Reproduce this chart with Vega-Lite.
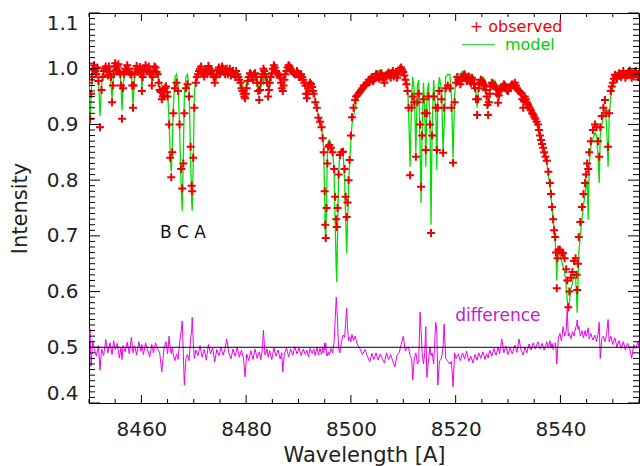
{
"$schema": "https://vega.github.io/schema/vega-lite/v6.json",
"width": 550, "height": 390,
"autosize": {"type": "none"},
"padding": {"left": 89, "top": 13, "right": 1, "bottom": 63},
"background": "white",
"config": {"view": {"stroke": null}, "font": "DejaVu Sans"},
"resolve": {"axis": {"x": "independent", "y": "independent"}},
"datasets": {
"xt": [{"t":8450},{"t":8455},{"t":8460},{"t":8465},{"t":8470},{"t":8475},{"t":8480},{"t":8485},{"t":8490},{"t":8495},{"t":8500},{"t":8505},{"t":8510},{"t":8515},{"t":8520},{"t":8525},{"t":8530},{"t":8535},{"t":8540},{"t":8545},{"t":8550},{"t":8555}],
"yt": [{"v":0.4},{"v":0.41},{"v":0.42},{"v":0.43},{"v":0.44},{"v":0.45},{"v":0.46},{"v":0.47},{"v":0.48},{"v":0.49},{"v":0.5},{"v":0.51},{"v":0.52},{"v":0.53},{"v":0.54},{"v":0.55},{"v":0.56},{"v":0.57},{"v":0.58},{"v":0.59},{"v":0.6},{"v":0.61},{"v":0.62},{"v":0.63},{"v":0.64},{"v":0.65},{"v":0.66},{"v":0.67},{"v":0.68},{"v":0.69},{"v":0.7},{"v":0.71},{"v":0.72},{"v":0.73},{"v":0.74},{"v":0.75},{"v":0.76},{"v":0.77},{"v":0.78},{"v":0.79},{"v":0.8},{"v":0.81},{"v":0.82},{"v":0.83},{"v":0.84},{"v":0.85},{"v":0.86},{"v":0.87},{"v":0.88},{"v":0.89},{"v":0.9},{"v":0.91},{"v":0.92},{"v":0.93},{"v":0.94},{"v":0.95},{"v":0.96},{"v":0.97},{"v":0.98},{"v":0.99},{"v":1.0},{"v":1.01},{"v":1.02},{"v":1.03},{"v":1.04},{"v":1.05},{"v":1.06},{"v":1.07},{"v":1.08},{"v":1.09},{"v":1.1}],
"spec": [
{"w":8450.0,"obs":0.975,"mod":0.97,"diff":0.51},
{"w":8450.2,"obs":0.91,"mod":0.90,"diff":0.533},
{"w":8450.4,"obs":0.955,"mod":0.955,"diff":0.466},
{"w":8450.7,"obs":0.998,"mod":0.99,"diff":0.512},
{"w":8451.0,"obs":1.006,"mod":0.996,"diff":0.498},
{"w":8451.4,"obs":0.99,"mod":0.996,"diff":0.484},
{"w":8451.8,"obs":0.978,"mod":0.985,"diff":0.503},
{"w":8452.1,"obs":0.895,"mod":0.915,"diff":0.459},
{"w":8452.4,"obs":0.962,"mod":0.97,"diff":0.497},
{"w":8452.8,"obs":0.996,"mod":0.998,"diff":0.485},
{"w":8453.2,"obs":1.004,"mod":0.998,"diff":0.514},
{"w":8453.6,"obs":0.988,"mod":0.996,"diff":0.49},
{"w":8454.0,"obs":0.995,"mod":0.992,"diff":0.508},
{"w":8454.4,"obs":0.94,"mod":0.946,"diff":0.487},
{"w":8454.7,"obs":0.99,"mod":0.992,"diff":0.512},
{"w":8455.0,"obs":1.01,"mod":1.0,"diff":0.496},
{"w":8455.4,"obs":1.004,"mod":1.0,"diff":0.507},
{"w":8455.8,"obs":0.994,"mod":0.998,"diff":0.481},
{"w":8456.1,"obs":0.97,"mod":0.975,"diff":0.499},
{"w":8456.3,"obs":0.91,"mod":0.925,"diff":0.478},
{"w":8456.5,"obs":0.965,"mod":0.97,"diff":0.503},
{"w":8456.9,"obs":1.0,"mod":0.998,"diff":0.492},
{"w":8457.3,"obs":1.006,"mod":1.0,"diff":0.509},
{"w":8457.7,"obs":0.994,"mod":0.998,"diff":0.488},
{"w":8458.1,"obs":0.99,"mod":0.99,"diff":0.518},
{"w":8458.4,"obs":0.93,"mod":0.935,"diff":0.49},
{"w":8458.7,"obs":0.99,"mod":0.99,"diff":0.503},
{"w":8459.1,"obs":1.005,"mod":1.0,"diff":0.486},
{"w":8459.5,"obs":0.998,"mod":1.0,"diff":0.51},
{"w":8459.9,"obs":0.99,"mod":0.995,"diff":0.493},
{"w":8460.1,"obs":0.96,"mod":0.965,"diff":0.505},
{"w":8460.4,"obs":0.995,"mod":0.998,"diff":0.487},
{"w":8460.8,"obs":1.006,"mod":1.0,"diff":0.508},
{"w":8461.2,"obs":1.0,"mod":1.0,"diff":0.495},
{"w":8461.6,"obs":0.994,"mod":0.998,"diff":0.483},
{"w":8462.0,"obs":0.97,"mod":0.975,"diff":0.505},
{"w":8462.3,"obs":0.996,"mod":0.998,"diff":0.49},
{"w":8462.7,"obs":1.002,"mod":0.998,"diff":0.508},
{"w":8463.1,"obs":0.99,"mod":0.995,"diff":0.497},
{"w":8463.5,"obs":0.962,"mod":0.975,"diff":0.49},
{"w":8463.9,"obs":0.945,"mod":0.97,"diff":0.456},
{"w":8464.3,"obs":0.952,"mod":0.96,"diff":0.497},
{"w":8464.7,"obs":0.968,"mod":0.975,"diff":0.51},
{"w":8465.0,"obs":0.95,"mod":0.96,"diff":0.488},
{"w":8465.3,"obs":0.9,"mod":0.905,"diff":0.52},
{"w":8465.5,"obs":0.84,"mod":0.845,"diff":0.497},
{"w":8465.7,"obs":0.805,"mod":0.815,"diff":0.489},
{"w":8465.9,"obs":0.85,"mod":0.86,"diff":0.5},
{"w":8466.1,"obs":0.92,"mod":0.93,"diff":0.486},
{"w":8466.4,"obs":0.965,"mod":0.985,"diff":0.476},
{"w":8466.7,"obs":0.975,"mod":0.99,"diff":0.488},
{"w":8467.0,"obs":0.96,"mod":0.975,"diff":0.478},
{"w":8467.3,"obs":0.9,"mod":0.89,"diff":0.508},
{"w":8467.6,"obs":0.82,"mod":0.79,"diff":0.53},
{"w":8467.8,"obs":0.785,"mod":0.745,"diff":0.547},
{"w":8468.0,"obs":0.83,"mod":0.84,"diff":0.49},
{"w":8468.2,"obs":0.92,"mod":0.95,"diff":0.432},
{"w":8468.5,"obs":0.965,"mod":0.985,"diff":0.48},
{"w":8468.8,"obs":0.972,"mod":0.99,"diff":0.487},
{"w":8469.1,"obs":0.95,"mod":0.965,"diff":0.476},
{"w":8469.4,"obs":0.86,"mod":0.84,"diff":0.515},
{"w":8469.6,"obs":0.79,"mod":0.76,"diff":0.53},
{"w":8469.7,"obs":0.78,"mod":0.745,"diff":0.554},
{"w":8469.9,"obs":0.84,"mod":0.83,"diff":0.51},
{"w":8470.1,"obs":0.93,"mod":0.95,"diff":0.48},
{"w":8470.4,"obs":0.975,"mod":0.985,"diff":0.495},
{"w":8470.8,"obs":0.99,"mod":0.995,"diff":0.485},
{"w":8471.2,"obs":1.0,"mod":0.998,"diff":0.503},
{"w":8471.6,"obs":0.994,"mod":0.998,"diff":0.482},
{"w":8472.0,"obs":0.986,"mod":0.99,"diff":0.496},
{"w":8472.4,"obs":0.996,"mod":0.995,"diff":0.477},
{"w":8472.8,"obs":1.005,"mod":1.0,"diff":0.505},
{"w":8473.2,"obs":0.993,"mod":0.998,"diff":0.488},
{"w":8473.6,"obs":0.99,"mod":0.995,"diff":0.499},
{"w":8474.0,"obs":0.975,"mod":0.985,"diff":0.474},
{"w":8474.4,"obs":0.99,"mod":0.995,"diff":0.496},
{"w":8474.8,"obs":1.002,"mod":0.998,"diff":0.485},
{"w":8475.2,"obs":0.995,"mod":0.998,"diff":0.5},
{"w":8475.6,"obs":1.0,"mod":1.0,"diff":0.486},
{"w":8476.0,"obs":0.99,"mod":0.995,"diff":0.498},
{"w":8476.3,"obs":1.0,"mod":0.99,"diff":0.515},
{"w":8476.7,"obs":0.995,"mod":0.998,"diff":0.49},
{"w":8477.1,"obs":0.988,"mod":0.995,"diff":0.479},
{"w":8477.5,"obs":0.996,"mod":0.998,"diff":0.497},
{"w":8477.9,"obs":0.985,"mod":0.99,"diff":0.484},
{"w":8478.3,"obs":0.99,"mod":0.995,"diff":0.5},
{"w":8478.7,"obs":0.98,"mod":0.99,"diff":0.482},
{"w":8479.1,"obs":0.965,"mod":0.975,"diff":0.495},
{"w":8479.5,"obs":0.955,"mod":0.965,"diff":0.48},
{"w":8479.8,"obs":0.947,"mod":0.955,"diff":0.447},
{"w":8480.1,"obs":0.965,"mod":0.975,"diff":0.488},
{"w":8480.5,"obs":0.985,"mod":0.99,"diff":0.476},
{"w":8480.9,"obs":0.99,"mod":0.995,"diff":0.494},
{"w":8481.3,"obs":0.98,"mod":0.99,"diff":0.478},
{"w":8481.7,"obs":0.992,"mod":0.995,"diff":0.497},
{"w":8482.1,"obs":0.975,"mod":0.985,"diff":0.48},
{"w":8482.5,"obs":0.944,"mod":0.955,"diff":0.492},
{"w":8482.8,"obs":0.975,"mod":0.98,"diff":0.478},
{"w":8483.1,"obs":0.99,"mod":0.995,"diff":0.497},
{"w":8483.3,"obs":1.0,"mod":0.97,"diff":0.531},
{"w":8483.6,"obs":0.99,"mod":0.995,"diff":0.486},
{"w":8484.0,"obs":0.975,"mod":0.985,"diff":0.497},
{"w":8484.2,"obs":0.95,"mod":0.96,"diff":0.482},
{"w":8484.5,"obs":0.975,"mod":0.985,"diff":0.494},
{"w":8484.9,"obs":0.992,"mod":0.995,"diff":0.478},
{"w":8485.3,"obs":1.006,"mod":0.998,"diff":0.499},
{"w":8485.7,"obs":0.996,"mod":0.998,"diff":0.484},
{"w":8486.1,"obs":0.99,"mod":0.995,"diff":0.495},
{"w":8486.5,"obs":0.984,"mod":0.99,"diff":0.479},
{"w":8486.8,"obs":0.965,"mod":0.975,"diff":0.49},
{"w":8487.0,"obs":0.96,"mod":0.97,"diff":0.456},
{"w":8487.3,"obs":0.98,"mod":0.99,"diff":0.488},
{"w":8487.7,"obs":0.996,"mod":0.998,"diff":0.499},
{"w":8488.1,"obs":1.006,"mod":1.0,"diff":0.483},
{"w":8488.5,"obs":1.0,"mod":1.0,"diff":0.497},
{"w":8488.9,"obs":0.994,"mod":0.998,"diff":0.486},
{"w":8489.3,"obs":0.99,"mod":0.995,"diff":0.501},
{"w":8489.7,"obs":0.996,"mod":0.995,"diff":0.488},
{"w":8490.1,"obs":0.985,"mod":0.99,"diff":0.499},
{"w":8490.5,"obs":0.99,"mod":0.99,"diff":0.485},
{"w":8490.9,"obs":0.98,"mod":0.985,"diff":0.497},
{"w":8491.3,"obs":0.97,"mod":0.975,"diff":0.487},
{"w":8491.6,"obs":0.947,"mod":0.955,"diff":0.495},
{"w":8491.9,"obs":0.965,"mod":0.97,"diff":0.483},
{"w":8492.2,"obs":0.975,"mod":0.98,"diff":0.498},
{"w":8492.6,"obs":0.967,"mod":0.97,"diff":0.489},
{"w":8492.9,"obs":0.955,"mod":0.96,"diff":0.497},
{"w":8493.2,"obs":0.94,"mod":0.945,"diff":0.485},
{"w":8493.5,"obs":0.93,"mod":0.93,"diff":0.5},
{"w":8493.8,"obs":0.912,"mod":0.915,"diff":0.486},
{"w":8494.1,"obs":0.905,"mod":0.905,"diff":0.498},
{"w":8494.4,"obs":0.895,"mod":0.895,"diff":0.487},
{"w":8494.6,"obs":0.875,"mod":0.88,"diff":0.5},
{"w":8494.8,"obs":0.85,"mod":0.855,"diff":0.49},
{"w":8495.0,"obs":0.78,"mod":0.77,"diff":0.508},
{"w":8495.1,"obs":0.72,"mod":0.71,"diff":0.496},
{"w":8495.2,"obs":0.696,"mod":0.689,"diff":0.507},
{"w":8495.35,"obs":0.75,"mod":0.76,"diff":0.486},
{"w":8495.5,"obs":0.83,"mod":0.845,"diff":0.484},
{"w":8495.7,"obs":0.86,"mod":0.87,"diff":0.492},
{"w":8495.9,"obs":0.863,"mod":0.872,"diff":0.486},
{"w":8496.2,"obs":0.858,"mod":0.865,"diff":0.498},
{"w":8496.5,"obs":0.85,"mod":0.855,"diff":0.49},
{"w":8496.8,"obs":0.82,"mod":0.81,"diff":0.51},
{"w":8497.0,"obs":0.77,"mod":0.72,"diff":0.55},
{"w":8497.2,"obs":0.73,"mod":0.64,"diff":0.59},
{"w":8497.3,"obs":0.716,"mod":0.617,"diff":0.575},
{"w":8497.45,"obs":0.75,"mod":0.7,"diff":0.545},
{"w":8497.65,"obs":0.81,"mod":0.81,"diff":0.497},
{"w":8497.9,"obs":0.845,"mod":0.85,"diff":0.49},
{"w":8498.2,"obs":0.85,"mod":0.855,"diff":0.51},
{"w":8498.5,"obs":0.851,"mod":0.85,"diff":0.522},
{"w":8498.8,"obs":0.82,"mod":0.8,"diff":0.518},
{"w":8499.0,"obs":0.77,"mod":0.73,"diff":0.545},
{"w":8499.2,"obs":0.734,"mod":0.669,"diff":0.57},
{"w":8499.35,"obs":0.76,"mod":0.72,"diff":0.535},
{"w":8499.55,"obs":0.8,"mod":0.79,"diff":0.512},
{"w":8499.75,"obs":0.836,"mod":0.83,"diff":0.518},
{"w":8500.0,"obs":0.88,"mod":0.87,"diff":0.51},
{"w":8500.2,"obs":0.913,"mod":0.9,"diff":0.523},
{"w":8500.5,"obs":0.93,"mod":0.915,"diff":0.512},
{"w":8500.8,"obs":0.944,"mod":0.93,"diff":0.52},
{"w":8501.2,"obs":0.952,"mod":0.945,"diff":0.506},
{"w":8501.7,"obs":0.958,"mod":0.955,"diff":0.498},
{"w":8502.2,"obs":0.965,"mod":0.965,"diff":0.487},
{"w":8502.7,"obs":0.97,"mod":0.975,"diff":0.496},
{"w":8503.2,"obs":0.975,"mod":0.98,"diff":0.483},
{"w":8503.6,"obs":0.976,"mod":0.985,"diff":0.474},
{"w":8504.0,"obs":0.985,"mod":0.99,"diff":0.489},
{"w":8504.4,"obs":0.98,"mod":0.99,"diff":0.478},
{"w":8504.8,"obs":0.99,"mod":0.995,"diff":0.49},
{"w":8505.2,"obs":0.985,"mod":0.995,"diff":0.477},
{"w":8505.6,"obs":0.99,"mod":0.998,"diff":0.488},
{"w":8506.0,"obs":0.985,"mod":0.995,"diff":0.479},
{"w":8506.4,"obs":0.975,"mod":0.99,"diff":0.472},
{"w":8506.8,"obs":0.988,"mod":0.995,"diff":0.49},
{"w":8507.2,"obs":0.993,"mod":0.998,"diff":0.478},
{"w":8507.6,"obs":0.984,"mod":0.998,"diff":0.487},
{"w":8508.0,"obs":0.996,"mod":0.998,"diff":0.475},
{"w":8508.4,"obs":0.99,"mod":0.998,"diff":0.465},
{"w":8508.8,"obs":0.984,"mod":0.998,"diff":0.486},
{"w":8509.2,"obs":0.995,"mod":0.998,"diff":0.49},
{"w":8509.6,"obs":1.002,"mod":0.998,"diff":0.505},
{"w":8510.0,"obs":0.994,"mod":0.995,"diff":0.52},
{"w":8510.4,"obs":0.98,"mod":0.985,"diff":0.493},
{"w":8510.8,"obs":0.96,"mod":0.97,"diff":0.5},
{"w":8511.0,"obs":0.93,"mod":0.93,"diff":0.5},
{"w":8511.3,"obs":0.809,"mod":0.824,"diff":0.485},
{"w":8511.6,"obs":0.93,"mod":0.95,"diff":0.48},
{"w":8511.8,"obs":0.95,"mod":0.985,"diff":0.441},
{"w":8512.1,"obs":0.94,"mod":0.96,"diff":0.48},
{"w":8512.4,"obs":0.842,"mod":0.85,"diff":0.49},
{"w":8512.7,"obs":0.94,"mod":0.97,"diff":0.47},
{"w":8512.95,"obs":0.955,"mod":0.98,"diff":0.475},
{"w":8513.2,"obs":0.9,"mod":0.86,"diff":0.563},
{"w":8513.4,"obs":0.788,"mod":0.759,"diff":0.53},
{"w":8513.6,"obs":0.88,"mod":0.89,"diff":0.49},
{"w":8513.85,"obs":0.945,"mod":0.975,"diff":0.47},
{"w":8514.1,"obs":0.92,"mod":0.93,"diff":0.49},
{"w":8514.3,"obs":0.854,"mod":0.824,"diff":0.537},
{"w":8514.5,"obs":0.92,"mod":0.95,"diff":0.446},
{"w":8514.8,"obs":0.95,"mod":0.975,"diff":0.475},
{"w":8515.1,"obs":0.9,"mod":0.9,"diff":0.5},
{"w":8515.3,"obs":0.705,"mod":0.72,"diff":0.485},
{"w":8515.5,"obs":0.88,"mod":0.89,"diff":0.49},
{"w":8515.8,"obs":0.95,"mod":0.98,"diff":0.47},
{"w":8516.2,"obs":0.93,"mod":0.92,"diff":0.545},
{"w":8516.4,"obs":0.854,"mod":0.818,"diff":0.53},
{"w":8516.6,"obs":0.93,"mod":0.96,"diff":0.432},
{"w":8516.9,"obs":0.96,"mod":0.985,"diff":0.475},
{"w":8517.3,"obs":0.945,"mod":0.96,"diff":0.48},
{"w":8517.6,"obs":0.849,"mod":0.85,"diff":0.5},
{"w":8517.8,"obs":0.93,"mod":0.9,"diff":0.542},
{"w":8518.1,"obs":0.965,"mod":0.985,"diff":0.48},
{"w":8518.5,"obs":0.97,"mod":0.99,"diff":0.475},
{"w":8518.9,"obs":0.965,"mod":0.99,"diff":0.47},
{"w":8519.2,"obs":0.93,"mod":0.95,"diff":0.475},
{"w":8519.5,"obs":0.831,"mod":0.84,"diff":0.429},
{"w":8519.8,"obs":0.94,"mod":0.95,"diff":0.49},
{"w":8520.1,"obs":0.975,"mod":0.99,"diff":0.48},
{"w":8520.5,"obs":0.98,"mod":0.99,"diff":0.488},
{"w":8520.9,"obs":0.972,"mod":0.99,"diff":0.476},
{"w":8521.3,"obs":0.985,"mod":0.995,"diff":0.49},
{"w":8521.7,"obs":0.99,"mod":0.995,"diff":0.479},
{"w":8522.1,"obs":0.978,"mod":0.99,"diff":0.493},
{"w":8522.5,"obs":0.986,"mod":0.99,"diff":0.475},
{"w":8522.9,"obs":0.974,"mod":0.99,"diff":0.484},
{"w":8523.3,"obs":0.98,"mod":0.985,"diff":0.472},
{"w":8523.7,"obs":0.965,"mod":0.975,"diff":0.487},
{"w":8524.1,"obs":0.917,"mod":0.93,"diff":0.477},
{"w":8524.4,"obs":0.965,"mod":0.975,"diff":0.49},
{"w":8524.8,"obs":0.98,"mod":0.985,"diff":0.48},
{"w":8525.2,"obs":0.974,"mod":0.985,"diff":0.492},
{"w":8525.6,"obs":0.97,"mod":0.98,"diff":0.478},
{"w":8525.9,"obs":0.95,"mod":0.96,"diff":0.488},
{"w":8526.2,"obs":0.917,"mod":0.93,"diff":0.481},
{"w":8526.5,"obs":0.955,"mod":0.965,"diff":0.495},
{"w":8526.9,"obs":0.975,"mod":0.98,"diff":0.484},
{"w":8527.3,"obs":0.968,"mod":0.98,"diff":0.498},
{"w":8527.7,"obs":0.965,"mod":0.975,"diff":0.486},
{"w":8528.1,"obs":0.939,"mod":0.95,"diff":0.5},
{"w":8528.4,"obs":0.96,"mod":0.97,"diff":0.488},
{"w":8528.8,"obs":0.965,"mod":0.97,"diff":0.515},
{"w":8529.2,"obs":0.972,"mod":0.975,"diff":0.49},
{"w":8529.6,"obs":0.965,"mod":0.97,"diff":0.502},
{"w":8530.0,"obs":0.96,"mod":0.97,"diff":0.487},
{"w":8530.4,"obs":0.966,"mod":0.97,"diff":0.499},
{"w":8530.8,"obs":0.972,"mod":0.975,"diff":0.488},
{"w":8531.3,"obs":0.975,"mod":0.975,"diff":0.504},
{"w":8531.7,"obs":0.965,"mod":0.97,"diff":0.491},
{"w":8532.1,"obs":0.96,"mod":0.965,"diff":0.515},
{"w":8532.5,"obs":0.955,"mod":0.96,"diff":0.494},
{"w":8532.9,"obs":0.93,"mod":0.94,"diff":0.486},
{"w":8533.2,"obs":0.95,"mod":0.955,"diff":0.5},
{"w":8533.6,"obs":0.94,"mod":0.945,"diff":0.49},
{"w":8534.0,"obs":0.932,"mod":0.935,"diff":0.506},
{"w":8534.4,"obs":0.925,"mod":0.925,"diff":0.495},
{"w":8534.8,"obs":0.918,"mod":0.915,"diff":0.508},
{"w":8535.2,"obs":0.91,"mod":0.905,"diff":0.497},
{"w":8535.7,"obs":0.9,"mod":0.895,"diff":0.51},
{"w":8536.1,"obs":0.88,"mod":0.88,"diff":0.497},
{"w":8536.5,"obs":0.865,"mod":0.865,"diff":0.507},
{"w":8536.9,"obs":0.85,"mod":0.85,"diff":0.495},
{"w":8537.4,"obs":0.835,"mod":0.83,"diff":0.51},
{"w":8537.7,"obs":0.815,"mod":0.81,"diff":0.499},
{"w":8538.0,"obs":0.795,"mod":0.79,"diff":0.512},
{"w":8538.2,"obs":0.775,"mod":0.77,"diff":0.5},
{"w":8538.4,"obs":0.752,"mod":0.75,"diff":0.507},
{"w":8538.6,"obs":0.73,"mod":0.73,"diff":0.496},
{"w":8538.8,"obs":0.71,"mod":0.71,"diff":0.505},
{"w":8539.0,"obs":0.698,"mod":0.69,"diff":0.508},
{"w":8539.15,"obs":0.67,"mod":0.67,"diff":0.498},
{"w":8539.3,"obs":0.606,"mod":0.62,"diff":0.47},
{"w":8539.45,"obs":0.66,"mod":0.665,"diff":0.495},
{"w":8539.6,"obs":0.675,"mod":0.67,"diff":0.515},
{"w":8539.9,"obs":0.675,"mod":0.665,"diff":0.525},
{"w":8540.2,"obs":0.67,"mod":0.655,"diff":0.512},
{"w":8540.5,"obs":0.669,"mod":0.645,"diff":0.537},
{"w":8540.8,"obs":0.66,"mod":0.635,"diff":0.52},
{"w":8541.1,"obs":0.64,"mod":0.61,"diff":0.53},
{"w":8541.3,"obs":0.62,"mod":0.585,"diff":0.57},
{"w":8541.5,"obs":0.572,"mod":0.565,"diff":0.52},
{"w":8541.7,"obs":0.6,"mod":0.58,"diff":0.525},
{"w":8542.0,"obs":0.625,"mod":0.605,"diff":0.515},
{"w":8542.3,"obs":0.635,"mod":0.615,"diff":0.528},
{"w":8542.6,"obs":0.655,"mod":0.63,"diff":0.52},
{"w":8542.9,"obs":0.66,"mod":0.625,"diff":0.535},
{"w":8543.1,"obs":0.63,"mod":0.585,"diff":0.54},
{"w":8543.2,"obs":0.603,"mod":0.562,"diff":0.549},
{"w":8543.35,"obs":0.65,"mod":0.61,"diff":0.532},
{"w":8543.5,"obs":0.698,"mod":0.67,"diff":0.538},
{"w":8543.8,"obs":0.725,"mod":0.7,"diff":0.52},
{"w":8544.1,"obs":0.752,"mod":0.73,"diff":0.53},
{"w":8544.4,"obs":0.775,"mod":0.755,"diff":0.517},
{"w":8544.7,"obs":0.795,"mod":0.775,"diff":0.53},
{"w":8544.9,"obs":0.81,"mod":0.79,"diff":0.52},
{"w":8545.1,"obs":0.83,"mod":0.8,"diff":0.525},
{"w":8545.3,"obs":0.82,"mod":0.729,"diff":0.535},
{"w":8545.5,"obs":0.85,"mod":0.83,"diff":0.515},
{"w":8545.8,"obs":0.87,"mod":0.86,"diff":0.525},
{"w":8546.2,"obs":0.89,"mod":0.875,"diff":0.513},
{"w":8546.6,"obs":0.9,"mod":0.885,"diff":0.522},
{"w":8546.9,"obs":0.895,"mod":0.88,"diff":0.51},
{"w":8547.2,"obs":0.87,"mod":0.84,"diff":0.525},
{"w":8547.4,"obs":0.842,"mod":0.795,"diff":0.545},
{"w":8547.6,"obs":0.895,"mod":0.88,"diff":0.48},
{"w":8547.9,"obs":0.915,"mod":0.9,"diff":0.515},
{"w":8548.2,"obs":0.93,"mod":0.915,"diff":0.52},
{"w":8548.5,"obs":0.944,"mod":0.93,"diff":0.51},
{"w":8548.8,"obs":0.92,"mod":0.9,"diff":0.523},
{"w":8549.1,"obs":0.86,"mod":0.824,"diff":0.55},
{"w":8549.3,"obs":0.92,"mod":0.91,"diff":0.51},
{"w":8549.6,"obs":0.96,"mod":0.95,"diff":0.52},
{"w":8550.0,"obs":0.975,"mod":0.965,"diff":0.505},
{"w":8550.4,"obs":0.989,"mod":0.98,"diff":0.517},
{"w":8550.8,"obs":0.982,"mod":0.98,"diff":0.5},
{"w":8551.2,"obs":0.992,"mod":0.985,"diff":0.512},
{"w":8551.6,"obs":0.985,"mod":0.985,"diff":0.498},
{"w":8552.0,"obs":0.996,"mod":0.99,"diff":0.51},
{"w":8552.4,"obs":0.984,"mod":0.985,"diff":0.495},
{"w":8552.8,"obs":0.99,"mod":0.99,"diff":0.507},
{"w":8553.2,"obs":0.997,"mod":0.99,"diff":0.5},
{"w":8553.6,"obs":0.984,"mod":0.99,"diff":0.48},
{"w":8554.0,"obs":0.99,"mod":0.99,"diff":0.505},
{"w":8554.4,"obs":0.996,"mod":0.99,"diff":0.498},
{"w":8554.8,"obs":0.985,"mod":0.985,"diff":0.51},
{"w":8555.0,"obs":0.99,"mod":0.99,"diff":0.5},
{"w":8450.55,"obs":0.985},{"w":8450.85,"obs":1.0},{"w":8451.2,"obs":0.995},{"w":8451.6,"obs":1.002},
{"w":8452.6,"obs":0.985},{"w":8453.0,"obs":1.0},{"w":8453.4,"obs":0.996},{"w":8453.8,"obs":1.004},
{"w":8454.2,"obs":0.985},{"w":8454.55,"obs":0.97},{"w":8454.85,"obs":1.004},{"w":8455.2,"obs":0.998},
{"w":8455.6,"obs":1.008},{"w":8456.0,"obs":0.99},{"w":8456.7,"obs":0.99},{"w":8457.1,"obs":0.996},
{"w":8457.5,"obs":1.0},{"w":8457.9,"obs":0.99},{"w":8458.25,"obs":0.97},{"w":8458.55,"obs":0.97},
{"w":8458.9,"obs":1.0},{"w":8459.3,"obs":0.994},{"w":8459.7,"obs":1.003},{"w":8460.25,"obs":0.985},
{"w":8460.6,"obs":1.0},{"w":8461.0,"obs":0.996},{"w":8461.4,"obs":1.004},{"w":8461.8,"obs":0.99},
{"w":8462.15,"obs":0.985},{"w":8462.5,"obs":1.004},{"w":8462.9,"obs":0.994},{"w":8463.3,"obs":0.975},
{"w":8463.7,"obs":0.958},{"w":8464.1,"obs":0.95},{"w":8464.5,"obs":0.965},{"w":8464.85,"obs":0.958},
{"w":8470.6,"obs":0.985},{"w":8471.0,"obs":0.996},{"w":8471.4,"obs":1.004},{"w":8471.8,"obs":0.99},
{"w":8472.2,"obs":0.998},{"w":8472.6,"obs":0.99},{"w":8473.0,"obs":1.0},{"w":8473.4,"obs":0.996},
{"w":8473.8,"obs":0.985},{"w":8474.2,"obs":0.985},{"w":8474.6,"obs":0.998},{"w":8475.0,"obs":0.99},
{"w":8475.4,"obs":1.004},{"w":8475.8,"obs":0.994},{"w":8476.15,"obs":0.998},{"w":8476.5,"obs":0.99},
{"w":8476.9,"obs":1.0},{"w":8477.3,"obs":0.992},{"w":8477.7,"obs":0.99},{"w":8478.1,"obs":0.996},
{"w":8478.5,"obs":0.985},{"w":8478.9,"obs":0.975},{"w":8479.3,"obs":0.96},{"w":8479.65,"obs":0.95},
{"w":8479.95,"obs":0.955},{"w":8480.3,"obs":0.978},{"w":8480.7,"obs":0.992},{"w":8481.1,"obs":0.985},
{"w":8481.5,"obs":0.99},{"w":8481.9,"obs":0.985},{"w":8482.3,"obs":0.96},{"w":8482.65,"obs":0.962},
{"w":8482.95,"obs":0.985},{"w":8483.45,"obs":0.996},{"w":8483.8,"obs":0.985},{"w":8484.35,"obs":0.962},
{"w":8484.7,"obs":0.985},{"w":8485.1,"obs":1.0},{"w":8485.5,"obs":1.002},{"w":8485.9,"obs":0.992},
{"w":8486.3,"obs":0.988},{"w":8486.65,"obs":0.975},{"w":8487.15,"obs":0.97},{"w":8487.5,"obs":0.99},
{"w":8487.9,"obs":1.002},{"w":8488.3,"obs":1.004},{"w":8488.7,"obs":0.996},{"w":8489.1,"obs":0.992},
{"w":8489.5,"obs":0.99},{"w":8489.9,"obs":0.992},{"w":8490.3,"obs":0.988},{"w":8490.7,"obs":0.985},
{"w":8491.1,"obs":0.975},{"w":8491.45,"obs":0.955},{"w":8491.75,"obs":0.955},{"w":8492.05,"obs":0.97},
{"w":8492.4,"obs":0.972},{"w":8492.75,"obs":0.96},
{"w":8501.0,"obs":0.95},{"w":8501.45,"obs":0.955},{"w":8501.95,"obs":0.962},{"w":8502.45,"obs":0.97},
{"w":8502.95,"obs":0.972},{"w":8503.4,"obs":0.98},{"w":8503.8,"obs":0.982},{"w":8504.2,"obs":0.978},
{"w":8504.6,"obs":0.986},{"w":8505.0,"obs":0.99},{"w":8505.4,"obs":0.982},{"w":8505.8,"obs":0.992},
{"w":8506.2,"obs":0.98},{"w":8506.6,"obs":0.985},{"w":8507.0,"obs":0.99},{"w":8507.4,"obs":0.988},
{"w":8507.8,"obs":0.992},{"w":8508.2,"obs":0.986},{"w":8508.6,"obs":0.994},{"w":8509.0,"obs":0.99},
{"w":8509.4,"obs":1.0},{"w":8509.8,"obs":0.998},{"w":8510.2,"obs":0.988},{"w":8510.6,"obs":0.972},
{"w":8520.3,"obs":0.985},{"w":8520.7,"obs":0.978},{"w":8521.1,"obs":0.98},{"w":8521.5,"obs":0.988},
{"w":8521.9,"obs":0.984},{"w":8522.3,"obs":0.98},{"w":8522.7,"obs":0.978},{"w":8523.1,"obs":0.984},
{"w":8523.5,"obs":0.972},{"w":8523.9,"obs":0.945},{"w":8524.25,"obs":0.945},{"w":8524.6,"obs":0.975},
{"w":8525.0,"obs":0.978},{"w":8525.4,"obs":0.97},{"w":8525.75,"obs":0.962},{"w":8526.05,"obs":0.935},
{"w":8526.35,"obs":0.94},{"w":8526.7,"obs":0.968},{"w":8527.1,"obs":0.972},{"w":8527.5,"obs":0.97},
{"w":8527.9,"obs":0.955},{"w":8528.25,"obs":0.952},{"w":8528.6,"obs":0.962},{"w":8529.0,"obs":0.968},
{"w":8529.4,"obs":0.97},{"w":8529.8,"obs":0.962},{"w":8530.2,"obs":0.965},{"w":8530.6,"obs":0.97},
{"w":8531.05,"obs":0.97},{"w":8531.5,"obs":0.97},{"w":8531.9,"obs":0.962},{"w":8532.3,"obs":0.958},
{"w":8532.7,"obs":0.945},{"w":8533.05,"obs":0.942},{"w":8533.4,"obs":0.945},{"w":8533.8,"obs":0.936},
{"w":8534.2,"obs":0.928},{"w":8534.6,"obs":0.92},{"w":8535.0,"obs":0.914},{"w":8535.45,"obs":0.905},
{"w":8535.9,"obs":0.89},{"w":8536.3,"obs":0.872},{"w":8536.7,"obs":0.858},{"w":8537.15,"obs":0.842},
{"w":8549.8,"obs":0.968},{"w":8550.2,"obs":0.982},{"w":8550.6,"obs":0.986},{"w":8551.0,"obs":0.988},
{"w":8551.4,"obs":0.99},{"w":8551.8,"obs":0.99},{"w":8552.2,"obs":0.99},{"w":8552.6,"obs":0.988},
{"w":8553.0,"obs":0.994},{"w":8553.4,"obs":0.99},{"w":8553.8,"obs":0.988},{"w":8554.2,"obs":0.994},
{"w":8554.6,"obs":0.99}
]},
"data": {"name": "spec"},
"layer": [
{"transform": [{"filter": "isValid(datum.mod)"}],
 "mark": {"type": "line", "color": "#00e000", "strokeWidth": 1.3, "clip": true},
 "encoding": {
  "x": {"field": "w", "type": "quantitative", "scale": {"domain": [8450, 8555], "nice": false, "zero": false},
   "axis": {"orient": "bottom", "grid": false, "ticks": false, "tickSize": 0,
    "values": [8460, 8480, 8500, 8520, 8540],
    "format": "d", "labelOverlap": false, "labelFlush": false,
    "labelFont": "DejaVu Sans", "labelFontSize": 20, "labelColor": "#222222", "labelPadding": 16,
    "domainColor": "black",
    "title": "Wavelength [A]", "titleFont": "DejaVu Sans", "titleFontSize": 21, "titleFontWeight": "normal", "titleColor": "#222222",
    "titleX": 275, "titleY": 58, "titleBaseline": "alphabetic", "titleAlign": "center"}},
  "y": {"field": "mod", "type": "quantitative", "scale": {"domain": [0.4, 1.1], "nice": false, "zero": false},
   "axis": {"orient": "left", "grid": false, "ticks": false, "tickSize": 0,
    "values": [0.4, 0.5, 0.6, 0.7, 0.8, 0.9, 1.0, 1.1],
    "format": ".1f", "labelOverlap": false, "labelFlush": true,
    "labelFont": "DejaVu Sans", "labelFontSize": 20, "labelColor": "#222222", "labelPadding": 11,
    "domainColor": "black",
    "title": "Intensity", "titleFont": "DejaVu Sans", "titleFontSize": 21, "titleFontWeight": "normal", "titleColor": "#222222",
    "titleX": -69, "titleY": 195, "titleAngle": -90, "titleAlign": "center", "titleBaseline": "middle"}}
 }},
{"mark": {"type": "point", "shape": "M-1,0H1M0,-1V1", "filled": false, "color": "#f00000", "strokeWidth": 2, "size": 64, "opacity": 1, "clip": true},
 "encoding": {
  "x": {"field": "w", "type": "quantitative",
   "axis": {"orient": "top", "grid": false, "labels": false, "ticks": false, "title": null, "domainColor": "black"}},
  "y": {"field": "obs", "type": "quantitative",
   "axis": {"orient": "right", "grid": false, "labels": false, "ticks": false, "title": null, "domainColor": "black"}}
 }},
{"transform": [{"filter": "isValid(datum.diff)"}],
 "mark": {"type": "line", "color": "#ee00ee", "strokeWidth": 1, "clip": true},
 "encoding": {
  "x": {"field": "w", "type": "quantitative", "axis": null},
  "y": {"field": "diff", "type": "quantitative", "axis": null}
 }},
{"data": {"values": [{}]},
 "mark": {"type": "rule", "color": "black", "strokeWidth": 1},
 "encoding": {"y": {"datum": 0.5, "type": "quantitative", "axis": null}}},
{"data": {"name": "xt"}, "transform": [{"filter": "datum.t % 20 === 0"}],
 "mark": {"type": "tick", "orient": "vertical", "size": 8, "thickness": 1, "yOffset": -4, "color": "black", "opacity": 1},
 "encoding": {"x": {"field": "t", "type": "quantitative", "axis": null}, "y": {"datum": 0.4, "type": "quantitative", "axis": null}}},
{"data": {"name": "xt"}, "transform": [{"filter": "datum.t % 20 !== 0"}],
 "mark": {"type": "tick", "orient": "vertical", "size": 4, "thickness": 1, "yOffset": -2, "color": "black", "opacity": 1},
 "encoding": {"x": {"field": "t", "type": "quantitative", "axis": null}, "y": {"datum": 0.4, "type": "quantitative", "axis": null}}},
{"data": {"name": "xt"}, "transform": [{"filter": "datum.t % 20 === 0"}],
 "mark": {"type": "tick", "orient": "vertical", "size": 8, "thickness": 1, "yOffset": 4, "color": "black", "opacity": 1},
 "encoding": {"x": {"field": "t", "type": "quantitative", "axis": null}, "y": {"datum": 1.1, "type": "quantitative", "axis": null}}},
{"data": {"name": "xt"}, "transform": [{"filter": "datum.t % 20 !== 0"}],
 "mark": {"type": "tick", "orient": "vertical", "size": 4, "thickness": 1, "yOffset": 2, "color": "black", "opacity": 1},
 "encoding": {"x": {"field": "t", "type": "quantitative", "axis": null}, "y": {"datum": 1.1, "type": "quantitative", "axis": null}}},
{"data": {"name": "yt"}, "transform": [{"filter": "abs(datum.v*10 - round(datum.v*10)) < 0.01"}],
 "mark": {"type": "tick", "orient": "horizontal", "size": 11, "thickness": 1, "xOffset": 5.5, "color": "black", "opacity": 1},
 "encoding": {"y": {"field": "v", "type": "quantitative", "axis": null}, "x": {"datum": 8450, "type": "quantitative", "axis": null}}},
{"data": {"name": "yt"}, "transform": [{"filter": "abs(datum.v*10 - round(datum.v*10)) >= 0.01"}],
 "mark": {"type": "tick", "orient": "horizontal", "size": 6, "thickness": 1, "xOffset": 3, "color": "black", "opacity": 1},
 "encoding": {"y": {"field": "v", "type": "quantitative", "axis": null}, "x": {"datum": 8450, "type": "quantitative", "axis": null}}},
{"data": {"name": "yt"}, "transform": [{"filter": "abs(datum.v*10 - round(datum.v*10)) < 0.01"}],
 "mark": {"type": "tick", "orient": "horizontal", "size": 11, "thickness": 1, "xOffset": -5.5, "color": "black", "opacity": 1},
 "encoding": {"y": {"field": "v", "type": "quantitative", "axis": null}, "x": {"datum": 8555, "type": "quantitative", "axis": null}}},
{"data": {"name": "yt"}, "transform": [{"filter": "abs(datum.v*10 - round(datum.v*10)) >= 0.01"}],
 "mark": {"type": "tick", "orient": "horizontal", "size": 6, "thickness": 1, "xOffset": -3, "color": "black", "opacity": 1},
 "encoding": {"y": {"field": "v", "type": "quantitative", "axis": null}, "x": {"datum": 8555, "type": "quantitative", "axis": null}}},
{"data": {"values": [{}]},
 "mark": {"type": "rule", "color": "#00d000", "strokeWidth": 1},
 "encoding": {"x": {"datum": 8521.2, "type": "quantitative", "axis": null}, "x2": {"datum": 8527.5}, "y": {"datum": 1.043, "type": "quantitative", "axis": null}}},
{"data": {"values": [{}]},
 "mark": {"type": "text", "color": "#f00000", "font": "DejaVu Sans", "fontSize": 16, "align": "left", "baseline": "middle", "text": "+ observed"},
 "encoding": {"x": {"datum": 8522.7, "type": "quantitative", "axis": null}, "y": {"datum": 1.075, "type": "quantitative", "axis": null}}},
{"data": {"values": [{}]},
 "mark": {"type": "text", "color": "#00d000", "font": "DejaVu Sans", "fontSize": 16, "align": "left", "baseline": "middle", "text": "model"},
 "encoding": {"x": {"datum": 8529.4, "type": "quantitative", "axis": null}, "y": {"datum": 1.042, "type": "quantitative", "axis": null}}},
{"data": {"values": [{}]},
 "mark": {"type": "text", "color": "#111111", "font": "DejaVu Sans", "fontSize": 17, "align": "left", "baseline": "middle", "text": "B C A"},
 "encoding": {"x": {"datum": 8463.55, "type": "quantitative", "axis": null}, "y": {"datum": 0.705, "type": "quantitative", "axis": null}}},
{"data": {"values": [{}]},
 "mark": {"type": "text", "color": "#c020d0", "font": "DejaVu Sans", "fontSize": 17, "align": "left", "baseline": "middle", "text": "difference"},
 "encoding": {"x": {"datum": 8519.9, "type": "quantitative", "axis": null}, "y": {"datum": 0.556, "type": "quantitative", "axis": null}}}
]
}
